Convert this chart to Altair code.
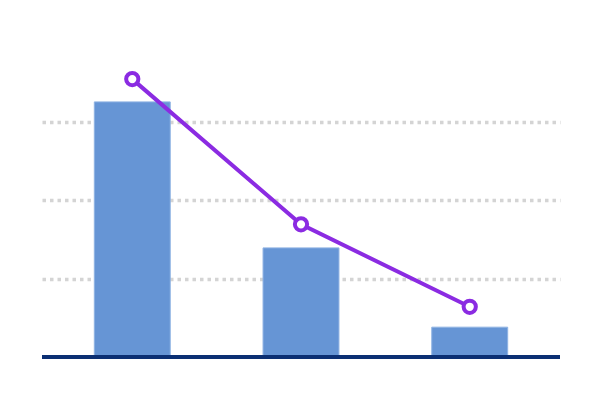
import altair as alt
import pandas as pd

categories = ["A", "B", "C"]
bar_values = [3.25, 1.39, 0.38]
line_values = [3.54, 1.69, 0.64]

df = pd.DataFrame({"cat": categories, "bar": bar_values, "line": line_values})

x = alt.X("cat:N", sort=categories, title=None,
          scale=alt.Scale(paddingInner=0.55, paddingOuter=0.31),
          axis=alt.Axis(labels=False, ticks=False, domain=False, grid=False))
yscale = alt.Scale(domain=[0, 4], nice=False)
yaxis = alt.Axis(labels=False, ticks=False, domain=False, title=None,
                 values=[1, 2, 3], grid=True, gridColor="#d4d4d4",
                 gridWidth=3.5, gridDash=[3.5, 4])

bars = alt.Chart(df).mark_bar(color="#6695d5", stroke="#8fb3e3", strokeWidth=1).encode(
    x=x,
    y=alt.Y("bar:Q", scale=yscale, axis=yaxis),
)

base = alt.Chart(pd.DataFrame({"v": [0]})).mark_rule(color="#0b2f73", strokeWidth=4).encode(
    y=alt.Y("v:Q", scale=yscale),
)

line = alt.Chart(df).mark_line(color="#8b2be2", strokeWidth=4).encode(
    x=alt.X("cat:N", sort=categories),
    y=alt.Y("line:Q", scale=yscale),
)

points = alt.Chart(df).mark_point(shape="circle", filled=False, fill="white", fillOpacity=1,
                                  color="#8b2be2", strokeWidth=4, size=150, opacity=1).encode(
    x=alt.X("cat:N", sort=categories),
    y=alt.Y("line:Q", scale=yscale),
)

chart = alt.layer(bars, base, line, points).properties(
    width=518, height=314,
    padding={"left": 34, "top": 35, "right": 32, "bottom": 35},
    autosize="none",
).configure_view(stroke=None)

chart.save("out.html", embed_options={"renderer": "svg", "actions": False})
